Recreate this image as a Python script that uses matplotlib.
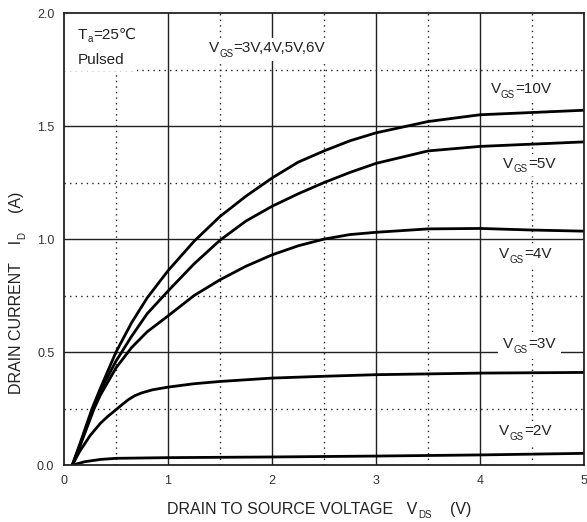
import matplotlib
matplotlib.use("Agg")
import matplotlib.pyplot as plt
from matplotlib.patches import Rectangle
from matplotlib.transforms import Bbox

plt.rcParams['font.family'] = ['Liberation Sans', 'DejaVu Sans']

# ---- data ----
vds_10 = [0.08, 0.15, 0.27, 0.35, 0.5, 0.65, 0.8, 0.9, 1.0, 1.25, 1.5, 1.75, 2.0, 2.25, 2.5, 2.75, 3.0, 3.5, 4.0, 4.5, 5.0]
id_10 = [0.0, 0.09, 0.25, 0.34, 0.50, 0.63, 0.74, 0.80, 0.86, 0.99, 1.10, 1.19, 1.27, 1.34, 1.39, 1.435, 1.47, 1.52, 1.55, 1.56, 1.57]

vds_5 = [0.08, 0.15, 0.28, 0.35, 0.5, 0.65, 0.8, 0.9, 1.0, 1.25, 1.5, 1.75, 2.0, 2.25, 2.5, 2.75, 3.0, 3.5, 4.0, 4.5, 5.0]
id_5 = [0.0, 0.085, 0.25, 0.33, 0.46, 0.57, 0.67, 0.72, 0.77, 0.89, 0.995, 1.08, 1.145, 1.20, 1.25, 1.295, 1.335, 1.39, 1.41, 1.42, 1.43]

vds_4 = [0.08, 0.15, 0.29, 0.35, 0.5, 0.65, 0.8, 0.9, 1.0, 1.25, 1.5, 1.75, 2.0, 2.25, 2.5, 2.75, 3.0, 3.5, 4.0, 4.5, 5.0]
id_4 = [0.0, 0.08, 0.25, 0.31, 0.43, 0.52, 0.59, 0.625, 0.66, 0.75, 0.82, 0.88, 0.93, 0.97, 1.00, 1.02, 1.03, 1.045, 1.047, 1.04, 1.035]

vds_3 = [0.08, 0.15, 0.25, 0.35, 0.42, 0.5, 0.56, 0.62, 0.68, 0.75, 0.85, 1.0, 1.25, 1.5, 2.0, 2.5, 3.0, 4.0, 5.0]
id_3 = [0.0, 0.06, 0.13, 0.185, 0.215, 0.245, 0.268, 0.29, 0.307, 0.32, 0.333, 0.345, 0.36, 0.37, 0.385, 0.393, 0.40, 0.407, 0.41]

vds_2 = [0.08, 0.2, 0.35, 0.5, 1.0, 2.0, 3.0, 4.0, 5.0]
id_2 = [0.0, 0.015, 0.025, 0.03, 0.033, 0.036, 0.04, 0.045, 0.052]

x_ticks = [0, 1, 2, 3, 4, 5]
x_tick_labels = ['0', '1', '2', '3', '4', '5']
y_ticks = [0.0, 0.5, 1.0, 1.5, 2.0]
y_tick_labels = ['0.0', '0.5', '1.0', '1.5', '2.0']

fig = plt.figure(figsize=(5.87, 5.22), dpi=100)
ax = fig.add_axes([0.109, 0.109, 0.886, 0.866])
ax.set_xlim(0, 5)
ax.set_ylim(0, 2.0)

# grid
for xv in [1, 2, 3, 4]:
    ax.axvline(xv, color='#222222', lw=1.0, zorder=1)
for yv in [0.5, 1.0, 1.5]:
    ax.axhline(yv, color='#222222', lw=1.0, zorder=1)
for xv in [0.5, 1.5, 2.5, 3.5, 4.5]:
    ax.axvline(xv, color='#222222', lw=1.0, ls=(0, (1, 3)), zorder=1)
for yv in [0.25, 0.75, 1.25, 1.75]:
    ax.axhline(yv, color='#222222', lw=1.0, ls=(0, (1, 3)), zorder=1)

for xs, ys in [(vds_10, id_10), (vds_5, id_5), (vds_4, id_4), (vds_3, id_3), (vds_2, id_2)]:
    ax.plot(xs, ys, color='black', lw=2.0, solid_capstyle='round', solid_joinstyle='round', zorder=4)

for s in ax.spines.values():
    s.set_color('#222222')
    s.set_linewidth(1.3)
    s.set_zorder(5)

ax.set_xticks(x_ticks)
ax.set_xticklabels(x_tick_labels)
ax.set_yticks(y_ticks)
ax.set_yticklabels(y_tick_labels)
ax.tick_params(length=0, labelsize=9, colors='#333333', pad=7)

tc = '#222222'
fs = 11
sfs = 7
backdrops = []  # (list of text artists, pad in px)


def sub_label(x, y, main, sub, rest, pad=3, size=fs, drop=2.5):
    t = ax.text(x, y, main, fontsize=size, color=tc, ha='left', va='baseline', zorder=3)
    s = ax.annotate(sub, xy=(1, 0), xycoords=t, xytext=(0.3, -drop), textcoords='offset points',
                    fontsize=sfs, color=tc, ha='left', va='bottom', zorder=3)
    r = ax.annotate(rest, xy=(1, 0), xycoords=(s, t), xytext=(0.3, 0), textcoords='offset points',
                    fontsize=size, color=tc, ha='left', va='bottom', zorder=3,
                    family=['Liberation Sans', 'DejaVu Sans'])
    backdrops.append(([t, s, r], pad))


# white background behind the condition note (hides the grid there)
ax.add_patch(Rectangle((0.0, 1.745), 0.70, 0.26, facecolor='white', edgecolor='none', zorder=2))
sub_label(0.13, 1.885, 'T', 'a', '=25℃', pad=0, drop=1.5)
ax.text(0.13, 1.775, 'Pulsed', fontsize=fs, color=tc, va='baseline', ha='left', zorder=3)

sub_label(1.39, 1.826, 'V', 'GS', '=3V,4V,5V,6V')
sub_label(4.10, 1.646, 'V', 'GS', '=10V')
sub_label(4.22, 1.316, 'V', 'GS', '=5V')
sub_label(4.18, 0.916, 'V', 'GS', '=4V')
sub_label(4.22, 0.516, 'V', 'GS', '=3V', pad=5)
sub_label(4.18, 0.131, 'V', 'GS', '=2V')

# x axis title
xa = fig.text(167 / 587, 1 - 514 / 522, 'DRAIN TO SOURCE VOLTAGE   V', fontsize=11.5, color=tc,
              ha='left', va='baseline')
xs_ = ax.annotate('DS', xy=(1, 0), xycoords=xa, xytext=(0.5, -1.8), textcoords='offset points',
                  fontsize=sfs, color=tc, ha='left', va='bottom', annotation_clip=False)
ax.annotate('    (V)', xy=(1, 0), xycoords=(xs_, xa), xytext=(0.5, 0), textcoords='offset points',
            fontsize=11.5, color=tc, ha='left', va='bottom', annotation_clip=False)

# y axis title (rotated)
ya = fig.text(24 / 587, 1 - 394 / 522, 'DRAIN CURRENT    I', fontsize=11.5, color=tc,
              ha='right', va='bottom', rotation=90)
ys_ = ax.annotate('D', xy=(1, 1), xycoords=ya, xytext=(2.5, 0.5), textcoords='offset points',
                  fontsize=sfs, color=tc, ha='right', va='bottom', rotation=90, annotation_clip=False)
ax.annotate('    (A)', xy=(1, 1), xycoords=(ya, ys_), xytext=(0, 0.5), textcoords='offset points',
            fontsize=11.5, color=tc, ha='right', va='bottom', rotation=90, annotation_clip=False)

# white backdrops behind the composite labels (hide grid lines there)
fig.canvas.draw()
renderer = fig.canvas.get_renderer()
for arts, pad in backdrops:
    bb = Bbox.union([a.get_window_extent(renderer) for a in arts])
    x0, y0 = bb.x0 - pad, bb.y0 - pad + 1
    x1, y1 = bb.x1 + pad, bb.y1 + pad
    (ax0, ay0), (ax1, ay1) = ax.transAxes.inverted().transform([(x0, y0), (x1, y1)])
    ax.add_patch(Rectangle((ax0, ay0), ax1 - ax0, ay1 - ay0, transform=ax.transAxes,
                           facecolor='white', edgecolor='none', zorder=2.5, clip_on=False))

fig.savefig('out.png', dpi=100, facecolor='white')
